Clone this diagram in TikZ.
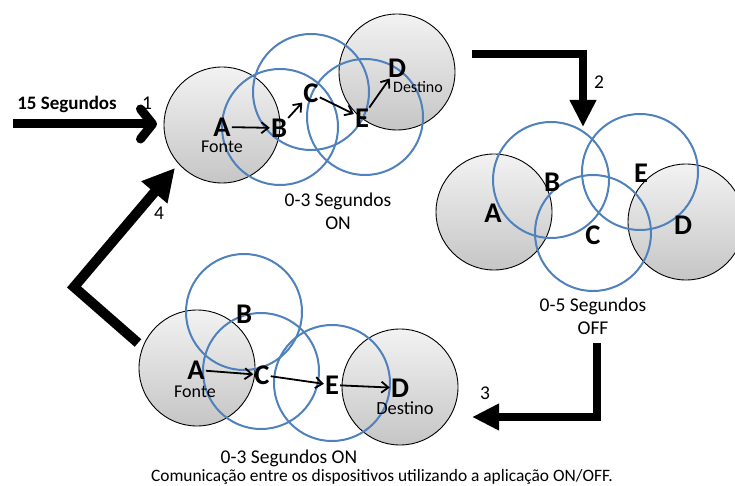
\documentclass[tikz,border=0pt]{standalone}
\usepackage{fontspec}
\setmainfont{Carlito}
\usetikzlibrary{arrows.meta}

\definecolor{ringblue}{RGB}{79,129,189}

\tikzset{
  device/.style={circle, draw=black, line width=0.9pt, top color=gray!10, bottom color=gray!45,
                 minimum size=116pt, inner sep=0pt},
  radio/.style={circle, draw=ringblue, line width=2pt, minimum size=116pt, inner sep=0pt},
  letter/.style={font=\fontsize{28.5}{28.5}\selectfont\bfseries, inner sep=1pt},
  role/.style={font=\fontsize{18}{18}\selectfont, inner sep=0pt},
  phase/.style={font=\fontsize{19.5}{23}\selectfont, align=center, inner sep=0pt},
  num/.style={font=\fontsize{19.5}{19.5}\selectfont, inner sep=0pt},
  hop/.style={line width=1.8pt, -{Straight Barb[length=7pt,width=11pt]}},
  flow/.style={line width=8pt, -{Triangle[length=27pt,width=25pt]}},
}

\begin{document}
\begin{tikzpicture}[x=1pt, y=-1pt]
\useasboundingbox (0,0) rectangle (735,486);

% ---------- phase 1: route established (top) ----------
\node[device] (tAr) at (222,125) {};
\node[device] (tDr) at (397,72) {};
\node[radio] (tBr) at (280,127) {};
\node[radio] (tCr) at (311,92) {};
\node[radio] (tEr) at (365,117) {};
\node[letter] (tA) at (222,127) {A};
\node[role] (tAf) at (222,147) {Fonte};
\node[letter] (tB) at (279,128) {B};
\node[letter] (tC) at (311,93) {C};
\node[letter] (tE) at (362,118) {E};
\node[letter] (tD) at (397,68) {D};
\node[role, font=\fontsize{16}{16}\selectfont] (tDd) at (418,87) {Destino};
\draw[hop] (tA) -- (tB);
\draw[hop] (tB) -- (tC);
\draw[hop] (tC) -- (tE);
\draw[hop] (tE) -- (tD);
\node[phase] (tPh) at (338,211) {0-3 Segundos\\ON};

% ---------- phase 2: nodes off (right) ----------
\node[device] (rAr) at (494,212) {};
\node[device] (rDr) at (686,222) {};
\node[radio] (rBr) at (551,180) {};
\node[radio] (rCr) at (593,233) {};
\node[radio] (rEr) at (640,172) {};
\node[letter] (rA) at (493,213) {A};
\node[letter] (rB) at (552,182) {B};
\node[letter] (rC) at (593,235) {C};
\node[letter] (rE) at (641,173) {E};
\node[letter] (rD) at (683,225) {D};
\node[phase] (rPh) at (593,316) {0-5 Segundos\\OFF};

% ---------- phase 3: new route (bottom) ----------
\node[device] (bAr) at (197,368) {};
\node[device] (bDr) at (400,387) {};
\node[radio] (bBr) at (244,312) {};
\node[radio] (bCr) at (261,371) {};
\node[radio] (bEr) at (332,383) {};
\node[letter] (bA) at (196,370) {A};
\node[role] (bAf) at (195,392) {Fonte};
\node[letter] (bB) at (244,314) {B};
\node[letter] (bC) at (262,375) {C};
\node[letter] (bE) at (332,385) {E};
\node[letter] (bD) at (400,388) {D};
\node[role, font=\fontsize{18.5}{18.5}\selectfont] (bDd) at (405,408) {Destino};
\draw[hop] (bA) -- (bC);
\draw[hop] (bC) -- (bE);
\draw[hop] (bE) -- (bD);
\node[phase] (bPh) at (289,458) {0-3 Segundos ON};

\node[font=\fontsize{17.4}{17.4}\selectfont, inner sep=0pt] (cap) at (382,477)
  {Comunicação entre os dispositivos utilizando a aplicação ON/OFF.};

% ---------- cycle arrows ----------
\coordinate (s1) at (13,124);
\coordinate (e1) at (157,124);
\draw[line width=9pt, -{Straight Barb[round,length=12pt,width=30pt]}] (s1) -- (e1);
\node[font=\fontsize{19}{19}\selectfont\bfseries, inner sep=0pt] (t15) at (67,104) {15 Segundos};
\node[num] (n1) at (147,103) {1};

\coordinate (s2) at (472,54);
\coordinate (e2) at (583,127);
\draw[flow] (s2) -| (e2);
\node[num] (n2) at (599,82) {2};

\coordinate (s3) at (597,343);
\coordinate (e3) at (472,417);
\draw[flow] (s3) |- (e3);
\node[num] (n3) at (485,393) {3};

\coordinate (s4) at (138,343);
\coordinate (k4) at (74,287);
\coordinate (e4) at (175,168);
\draw[line width=10pt, -{Triangle[length=32pt,width=32pt]}] (s4) -- (k4) -- (e4);
\node[num] (n4) at (159,213) {4};

\end{tikzpicture}
\end{document}
